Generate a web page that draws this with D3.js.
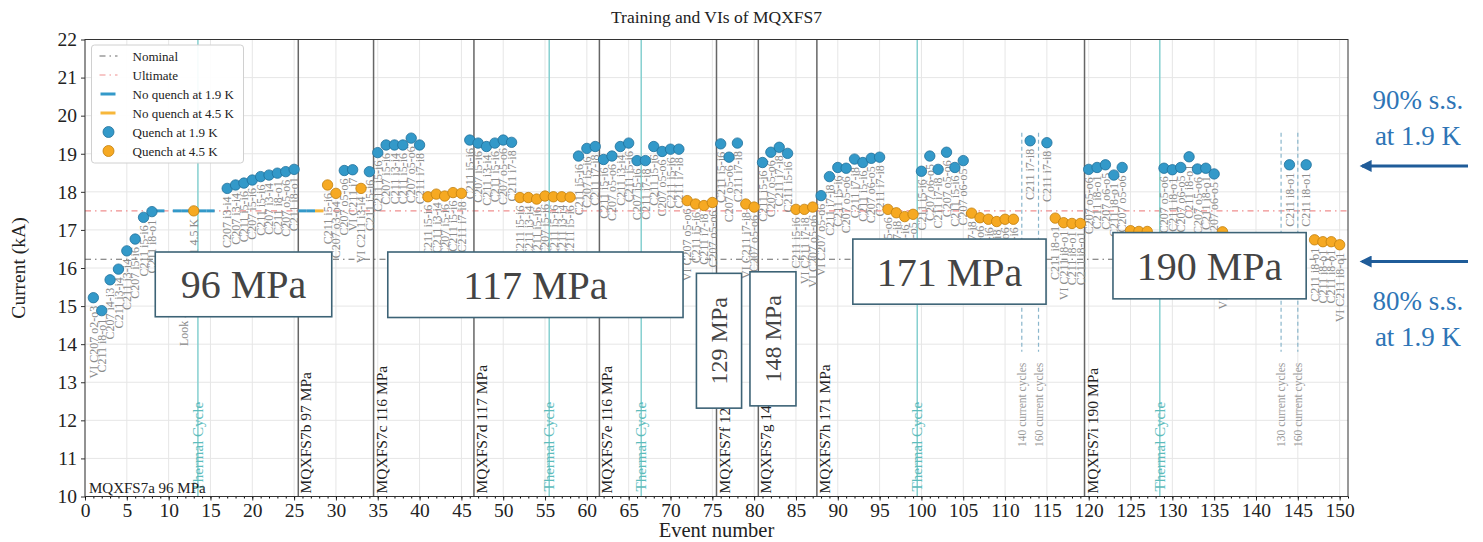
<!DOCTYPE html>
<html>
<head>
<meta charset="utf-8">
<script src="https://cdn.jsdelivr.net/npm/d3@7"></script>
<style>
  body { margin: 0; background: #fff; }
  svg { display: block; font-family: "Liberation Serif", "DejaVu Serif", serif; }
</style>
</head>
<body>
<div id="chart"></div>
<script>
// quench at 1.9 K: [event, current kA, location label]
const quench19 = [
  [1, 15.22, "VI C207 o2-o3"], [2, 14.88, "C211 i8-o1"], [3, 15.69, "C207 i4-i3"], [4, 15.97, "C211 i3-i4"],
  [5, 16.45, "C211 i3-i4"], [6, 16.76, "C207 i5-i6"], [7, 17.33, "C211 i5-i6"], [8, 17.48, "C211 i8-o1"],
  [17, 18.09, "C207 i3-i4"], [18, 18.18, "C207 i3-i4"], [19, 18.23, "C211 i5-i6"], [20, 18.31, "C207 i5-i6"],
  [21, 18.40, "C211 i5-i6"], [22, 18.44, "C207 i3-i4"], [23, 18.49, "C211 i8-o1"], [24, 18.53, "C207 o5-o6"],
  [25, 18.59, "C211 i8-o1"],
  [31, 18.56, "C207 o5-o6"], [32, 18.58, "VI C211 i7"], [34, 18.53, "C211 i5-i6"],
  [35, 19.03, "C211 i5-i6"], [36, 19.23, "C207 i5-i6"], [37, 19.23, "C211 i3-i4"], [38, 19.23, "C211 i5-i6"],
  [39, 19.41, "C207 o5-o6"], [40, 19.23, "C211 i7-i8"],
  [46, 19.36, "C211 i5-i6"], [47, 19.28, "C207 i5-i6"], [48, 19.19, "C211 i3-i4"], [49, 19.28, "C211 i5-i6"],
  [50, 19.36, "C207 o5-o6"], [51, 19.30, "C211 i7-i8"],
  [59, 18.94, "C211 i5-i6"], [60, 19.14, "C207 i5-i6"], [61, 19.19, "C211 i7-i8"], [62, 18.85, "C211 i5-i6"],
  [63, 18.94, "C207 o5-o6"], [64, 19.19, "C211 i3-i4"], [65, 19.28, "C211 i5-i6"], [66, 18.82, "C207 i5-i6"],
  [67, 18.82, "C211 i7-i8"], [68, 19.19, "C211 i5-i6"], [69, 19.06, "C207 o5-o6"], [70, 19.12, "C211 i5-i6"],
  [71, 19.12, "C211 i7-i8"],
  [76, 19.26, "C211 i5-i6"], [77, 18.91, "C207 o5-o6"], [78, 19.28, "C211 i7-i8"],
  [81, 18.77, "C211 i5-i6"], [82, 19.04, "C207 o5-o6"], [83, 19.17, "C211 i7-i8"], [84, 19.01, "C211 i5-i6"],
  [88, 17.90, "VI C207 o5-o6"], [89, 18.40, "C211 i7-i8"], [90, 18.64, "C211 i5-i6"], [91, 18.62, "C207 o5-o6"],
  [92, 18.86, "C211 i7-i8"], [93, 18.77, "C211 i5-i6"], [94, 18.88, "C207 o6-o5"], [95, 18.91, "C211 i7-i8"],
  [100, 18.54, "C211 i5-i6"], [101, 18.94, "C207 o6-o5"], [102, 18.59, "C211 i7-i8"], [103, 19.04, "C207 o5-o6"],
  [104, 18.64, "C211 i5-i6"], [105, 18.82, "C207 o6-o5"],
  [113, 19.34, "C211 i7-i8"], [115, 19.29, "C211 i7-i8"],
  [120, 18.59, "C207 o5-o6"], [121, 18.64, "C211 i8-o1"], [122, 18.71, "C207 o6-o5"], [123, 18.44, "C211 i8-o1"],
  [124, 18.64, "C207 o5-o6"],
  [129, 18.62, "C207 o5-o6"], [130, 18.58, "C211 i8-o1"], [131, 18.64, "C207 o6-o5"], [132, 18.92, "C211 i8-o1"],
  [133, 18.60, "C207 o5-o6"], [134, 18.62, "C211 i8-o1"], [135, 18.47, "VI C207 o6-o5"],
  [144, 18.71, "C211 i8-o1"], [146, 18.71, "C211 i8-o1"]
];

// quench at 4.5 K
const quench45 = [
  [13, 17.50, "C211 4.5 K"], [29, 18.18, "C211 i5-i6"], [30, 17.96, "C207 o3-o4"], [33, 18.09, "VI C211 i3-i4"],
  [41, 17.87, "C211 i5-i6"], [42, 17.94, "C211 i3-i4"], [43, 17.89, "C207 i5-i6"], [44, 17.98, "C211 i5-i6"],
  [45, 17.96, "C211 i7-i8"],
  [52, 17.85, "VI C211 i5-i6"], [53, 17.85, "C211 i3-i4"], [54, 17.81, "C211 i5-i6"], [55, 17.89, "C207 i5-i6"],
  [56, 17.87, "C211 i5-i6"], [57, 17.87, "C211 i3-i4"], [58, 17.86, "C211 i5-i6"],
  [72, 17.77, "VI C207 o5-o6"], [73, 17.68, "C211 i5-i6"], [74, 17.64, "C211 i7-i8"], [75, 17.72, "C207 o5-o6"],
  [79, 17.68, "VI C211 i7-i8"], [80, 17.60, "C207 o5-o6"],
  [85, 17.54, "C211 i5-i6"], [86, 17.54, "VI C211 i7-i8"], [87, 17.60, "VI C207 o5-o6"],
  [96, 17.54, "C207 o5-o6"], [97, 17.45, "C211 i7-i8"], [98, 17.35, "C211 i5-i6"], [99, 17.41, "C207 o6-o5"],
  [106, 17.44, "C211 i7-i8"], [107, 17.32, "C207 o5-o6"], [108, 17.28, "C211 i5-i6"], [109, 17.22, "C211 i7-i8"],
  [110, 17.28, "C207 o5-o6"], [111, 17.28, "C211 i5-i6"],
  [116, 17.31, "C211 i8-o1"], [117, 17.19, "VI C211 i8-o1"], [118, 17.17, "C211 i8-o1"], [119, 17.17, "C211 i8-o1"],
  [125, 16.98, "C211 i8-o1"], [126, 16.96, "C211 i8-o1"], [127, 16.96, "C207 o5-o6"], [136, 16.95, "VI C211 i8-o1"],
  [147, 16.74, "C211 i8-o1"], [148, 16.69, "C211 i8-o1"], [149, 16.69, "C211 i8-o1"], [150, 16.61, "VI C211 i8-o1"]
];

// ramps without quench
const noQuench19 = [[9, 17.5], [11, 17.5], [12, 17.5], [13, 17.5], [14, 17.5], [15, 17.5], [26, 17.5], [27, 17.5]];
const noQuench45 = [[28, 17.5]];

const nominal = 16.23;
const ultimate = 17.5;

// magnet re-assemblies
const testLines = [
  [25.5, "MQXFS7b 97 MPa"], [34.5, "MQXFS7c 116 MPa"], [46.5, "MQXFS7d 117 MPa"], [61.5, "MQXFS7e 116 MPa"],
  [75.5, "MQXFS7f 129 MPa"], [80.5, "MQXFS7g 148 MPa"], [87.5, "MQXFS7h 171 MPa"], [119.5, "MQXFS7i 190 MPa"]
];
const thermalCycles = [13.5, 55.5, 66.5, 99.5, 128.5];
const cycleLines = [[112, "140 current cycles"], [114, "160 current cycles"], [143, "130 current cycles"], [145, "160 current cycles"]];

// stress boxes: [label, event0, event1, kA top, kA bottom, vertical]
const stressBoxes = [
  ["96 MPa", 8.4, 29.5, 16.42, 14.72, false],
  ["117 MPa", 36.2, 71.5, 16.42, 14.70, false],
  ["129 MPa", 73.1, 78.5, 15.86, 12.32, true],
  ["148 MPa", 79.5, 85.0, 15.90, 12.38, true],
  ["171 MPa", 91.8, 114.9, 16.76, 15.05, false],
  ["190 MPa", 122.9, 146.0, 16.93, 15.19, false]
];

const xTicks = d3.range(0, 151, 5);
const yTicks = d3.range(10, 23, 1);

const W = 1483, H = 542;
const C19 = '#3399c9', C19e = '#20709a', C45 = '#f6a922', C45e = '#c27f0c';
const ARROW = '#1f5c99';

const svg = d3.select('#chart').append('svg').attr('width', W).attr('height', H);
const x = d3.scaleLinear().domain([0, 151]).range([85, 1348]);
const y = d3.scaleLinear().domain([10, 22]).range([496.5, 39.5]);

// grid
const grid = svg.append('g');
grid.selectAll('.gx').data(xTicks).enter().append('line')
  .attr('x1', d => x(d)).attr('x2', d => x(d)).attr('y1', y(10)).attr('y2', y(22))
  .attr('stroke', '#e6e6e6');
grid.selectAll('.gy').data(yTicks).enter().append('line')
  .attr('x1', x(0)).attr('x2', x(151)).attr('y1', d => y(d)).attr('y2', d => y(d))
  .attr('stroke', '#e6e6e6');

// nominal / ultimate
svg.append('line').attr('x1', x(0)).attr('x2', x(151)).attr('y1', y(nominal)).attr('y2', y(nominal))
  .attr('stroke', '#6a6a6a').attr('stroke-width', 1.2).attr('stroke-dasharray', '6,4,1.5,4');
svg.append('line').attr('x1', x(0)).attr('x2', x(151)).attr('y1', y(ultimate)).attr('y2', y(ultimate))
  .attr('stroke', '#ef8f8f').attr('stroke-width', 1.2).attr('stroke-dasharray', '6,4,1.5,4');

// vertical markers
svg.selectAll('.tc').data(thermalCycles).enter().append('line')
  .attr('x1', d => x(d)).attr('x2', d => x(d)).attr('y1', y(10)).attr('y2', y(22))
  .attr('stroke', '#86d0d0').attr('stroke-width', 1.5);
svg.selectAll('.tl').data(testLines).enter().append('line')
  .attr('x1', d => x(d[0])).attr('x2', d => x(d[0])).attr('y1', y(10)).attr('y2', y(22))
  .attr('stroke', '#666').attr('stroke-width', 1.5);
svg.selectAll('.cl').data(cycleLines).enter().append('line')
  .attr('x1', d => x(d[0])).attr('x2', d => x(d[0])).attr('y1', y(19.55)).attr('y2', y(13.8))
  .attr('stroke', '#8ab6cc').attr('stroke-width', 1.2).attr('stroke-dasharray', '4,3');

// labels under each quench
const labelG = svg.append('g').attr('font-size', 12).attr('fill', '#8c8c8c');
labelG.selectAll('text').data(quench19.concat(quench45)).enter().append('text')
  .attr('transform', d => `translate(${x(d[0])},${y(d[1]) + 8}) rotate(-90)`)
  .attr('dy', '0.35em').attr('text-anchor', 'end')
  .text(d => d[2]);
labelG.append('text')
  .attr('transform', `translate(${x(11.8)},${y(13.95)}) rotate(-90)`)
  .attr('dy', '0.35em').text('Look 4.5 K');

// no-quench ramps
svg.selectAll('.nq19').data(noQuench19).enter().append('line')
  .attr('x1', d => x(d[0] - 0.5)).attr('x2', d => x(d[0] + 0.5)).attr('y1', d => y(d[1])).attr('y2', d => y(d[1]))
  .attr('stroke', C19).attr('stroke-width', 3);
svg.selectAll('.nq45').data(noQuench45).enter().append('line')
  .attr('x1', d => x(d[0] - 0.5)).attr('x2', d => x(d[0] + 0.5)).attr('y1', d => y(d[1])).attr('y2', d => y(d[1]))
  .attr('stroke', '#f7b73a').attr('stroke-width', 3);

// quench points
svg.selectAll('.q19').data(quench19).enter().append('circle')
  .attr('cx', d => x(d[0])).attr('cy', d => y(d[1])).attr('r', 5.2)
  .attr('fill', C19).attr('stroke', C19e).attr('stroke-width', 0.8);
svg.selectAll('.q45').data(quench45).enter().append('circle')
  .attr('cx', d => x(d[0])).attr('cy', d => y(d[1])).attr('r', 5.2)
  .attr('fill', C45).attr('stroke', C45e).attr('stroke-width', 0.8);

// marker labels
svg.selectAll('.tlt').data(testLines).enter().append('text')
  .attr('transform', d => `translate(${x(d[0]) + 13},${y(10) - 3}) rotate(-90)`)
  .attr('font-size', 15.5).attr('fill', '#222').text(d => d[1]);
svg.selectAll('.tct').data(thermalCycles).enter().append('text')
  .attr('transform', d => `translate(${x(d)},${y(10) - 5}) rotate(-90)`)
  .attr('dy', '0.35em').attr('font-size', 15).attr('fill', '#5cbcbc').text('Thermal Cycle');
svg.selectAll('.clt').data(cycleLines).enter().append('text')
  .attr('transform', d => `translate(${x(d[0])},${y(11.3)}) rotate(-90)`)
  .attr('dy', '0.35em').attr('font-size', 11.5).attr('fill', '#999').text(d => d[1]);
svg.append('text').attr('x', x(0) + 4).attr('y', y(10) - 4)
  .attr('font-size', 15).attr('fill', '#222').text('MQXFS7a 96 MPa');

// stress boxes
const boxes = svg.selectAll('.box').data(stressBoxes).enter().append('g');
boxes.append('rect')
  .attr('x', d => x(d[1])).attr('y', d => y(d[3]))
  .attr('width', d => x(d[2]) - x(d[1])).attr('height', d => y(d[4]) - y(d[3]))
  .attr('fill', '#fff').attr('stroke', '#3d6376').attr('stroke-width', 1.6);
boxes.append('text')
  .attr('transform', d => {
    const cx = (x(d[1]) + x(d[2])) / 2, cy = (y(d[3]) + y(d[4])) / 2;
    return d[5] ? `translate(${cx},${cy}) rotate(-90)` : `translate(${cx},${cy})`;
  })
  .attr('text-anchor', 'middle').attr('dy', '0.35em')
  .attr('font-size', d => d[5] ? 24 : 40).attr('fill', '#444')
  .text(d => d[0]);

// axes
const xAxis = svg.append('g').attr('transform', `translate(0,${y(10)})`)
  .call(d3.axisBottom(x).tickValues(xTicks).tickSize(4).tickPadding(3));
svg.append('g').attr('transform', `translate(0,${y(10)})`)
  .call(d3.axisBottom(x).tickValues(d3.range(0, 152, 1)).tickSize(2).tickFormat(''))
  .call(g => g.select('.domain').remove());
const yAxis = svg.append('g').attr('transform', `translate(${x(0)},0)`)
  .call(d3.axisLeft(y).tickValues(yTicks).tickSize(4).tickPadding(4));
[xAxis, yAxis].forEach(a => {
  a.select('.domain').remove();
  a.selectAll('text').attr('font-size', 19.5).attr('font-family', '"Liberation Serif", serif').attr('fill', '#222');
  a.selectAll('line').attr('stroke', '#333');
});
svg.append('rect').attr('x', x(0)).attr('y', y(22)).attr('width', x(151) - x(0)).attr('height', y(10) - y(22))
  .attr('fill', 'none').attr('stroke', '#333').attr('stroke-width', 1);

svg.append('text').attr('x', (x(0) + x(151)) / 2).attr('y', 537).attr('text-anchor', 'middle')
  .attr('font-size', 20.5).attr('fill', '#222').text('Event number');
svg.append('text').attr('transform', `translate(25,${(y(10) + y(22)) / 2}) rotate(-90)`)
  .attr('text-anchor', 'middle').attr('font-size', 19.5).attr('fill', '#222').text('Current (kA)');
svg.append('text').attr('x', (x(0) + x(151)) / 2).attr('y', 23).attr('text-anchor', 'middle')
  .attr('font-size', 17.5).attr('fill', '#222').text('Training and VIs of MQXFS7');

// legend
const legend = svg.append('g').attr('transform', 'translate(91.5,45)');
legend.append('rect').attr('width', 152).attr('height', 118).attr('rx', 3)
  .attr('fill', '#fff').attr('fill-opacity', 0.92).attr('stroke', '#d0d0d0');
const legendItems = [
  ['Nominal', 'dash', '#6a6a6a'], ['Ultimate', 'dash', '#ef8f8f'],
  ['No quench at 1.9 K', 'line', C19], ['No quench at 4.5 K', 'line', '#f7b73a'],
  ['Quench at 1.9 K', 'dot', C19], ['Quench at 4.5 K', 'dot', C45]
];
const li = legend.selectAll('.li').data(legendItems).enter().append('g')
  .attr('transform', (d, i) => `translate(0,${11 + i * 19})`);
li.filter(d => d[1] === 'dash').append('line').attr('x1', 8).attr('x2', 26)
  .attr('stroke', d => d[2]).attr('stroke-width', 1.2).attr('stroke-dasharray', '6,4,1.5,4');
li.filter(d => d[1] === 'line').append('line').attr('x1', 9).attr('x2', 24)
  .attr('stroke', d => d[2]).attr('stroke-width', 3);
li.filter(d => d[1] === 'dot').append('circle').attr('cx', 17).attr('r', 5.5)
  .attr('fill', d => d[2]).attr('stroke', d => d[2] === C19 ? C19e : C45e).attr('stroke-width', 0.8);
li.append('text').attr('x', 41).attr('dy', '0.35em').attr('font-size', 13).attr('fill', '#222').text(d => d[0]);

// s.s. annotations
svg.append('defs').append('marker').attr('id', 'ah').attr('viewBox', '0 0 10 10')
  .attr('refX', 8).attr('refY', 5).attr('markerWidth', 4.5).attr('markerHeight', 4)
  .attr('orient', 'auto').append('path').attr('d', 'M0,0 L10,5 L0,10 Z').attr('fill', ARROW);
const ssNotes = [[18.68, 'at 1.9 K', '90% s.s.', -1], [16.17, 'at 1.9 K', '80% s.s.', 1]];
ssNotes.forEach(([kA, l2, l1, side]) => {
  svg.append('line').attr('x1', 1468).attr('x2', 1362).attr('y1', y(kA)).attr('y2', y(kA))
    .attr('stroke', ARROW).attr('stroke-width', 3).attr('marker-end', 'url(#ah)');
  const t = svg.append('text').attr('x', 1418).attr('text-anchor', 'middle')
    .attr('font-size', 27).attr('fill', '#2e75b6');
  const base = side < 0 ? y(kA) - 57 : y(kA) + 48;
  t.append('tspan').attr('x', 1418).attr('y', base).text(l1);
  t.append('tspan').attr('x', 1418).attr('y', base + 36).text(l2);
});
</script>
</body>
</html>
